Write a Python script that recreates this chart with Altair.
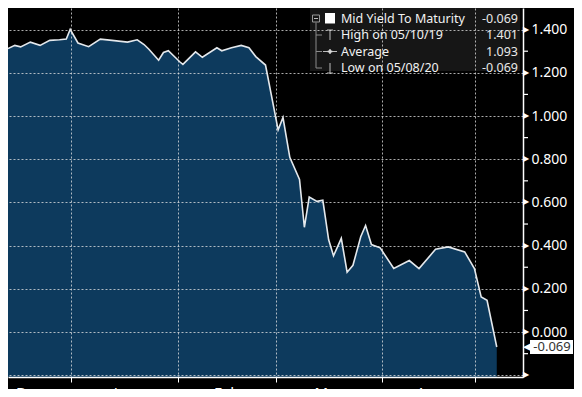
import altair as alt
import pandas as pd

# ---- data (x = trading-session index) ----
days = [0, 1.4, 2.6, 4.6, 6.6, 8.6, 10.6, 12.0, 12.8, 14.4, 16.6, 19.0, 21.4, 24.6,
        26.6, 28.0, 29.0, 31.0, 32.0, 33.0, 35.4, 36.0, 38.6, 40.0, 43.0, 44.0, 46.0,
        48.0, 49.6, 51.0, 53.0, 55.6, 56.6, 58.0, 60.0, 61.0, 62.0, 63.6, 64.8, 66.0,
        67.0, 68.6, 69.8, 71.0, 72.6, 73.6, 74.8, 76.6, 79.4, 82.6, 84.6, 88.0, 90.6,
        94.0, 96.0, 97.4, 98.6, 100.6]
yields = [1.312, 1.327, 1.320, 1.342, 1.327, 1.350, 1.353, 1.356, 1.401, 1.338, 1.321,
          1.356, 1.350, 1.342, 1.353, 1.331, 1.309, 1.258, 1.294, 1.302, 1.250, 1.239,
          1.297, 1.272, 1.316, 1.302, 1.316, 1.327, 1.316, 1.275, 1.236, 0.936, 0.993,
          0.809, 0.706, 0.485, 0.625, 0.605, 0.610, 0.427, 0.353, 0.434, 0.277, 0.309,
          0.441, 0.493, 0.405, 0.390, 0.294, 0.331, 0.294, 0.383, 0.394, 0.371, 0.294,
          0.162, 0.147, -0.069]

grid_y = [-0.2, 0.0, 0.2, 0.4, 0.6, 0.8, 1.0, 1.2, 1.4]
minor_y = [-0.1, 0.1, 0.3, 0.5, 0.7, 0.9, 1.1, 1.3]
month_bounds = [13, 35, 55.2, 77, 96.2]
month_names = ["Dec", "Jan", "Feb", "Mar", "Apr"]
month_centers = [4.4, 24, 45, 66, 86.6]
legend_labels = ["Mid Yield To Maturity", "High on 05/10/19", "Average", "Low on 05/08/20"]
legend_values = ["-0.069", "1.401", "1.093", "-0.069"]
last_value = -0.069

# ---- layout ----
W, H = 515, 369
XDOM = [0, 106]
YDOM = [-0.208, 1.5]
FONT = "Noto Sans"
AREA = "#0d3a5d"
GRID = "#e6e6e6"

xs = alt.Scale(domain=XDOM, nice=False, zero=False)
ys = alt.Scale(domain=YDOM, nice=False, zero=False)

series = pd.DataFrame({"day": days, "value": yields})
one = pd.DataFrame({"k": [0]})

area = alt.Chart(series).mark_area(color=AREA, opacity=1).encode(
    x=alt.X("day:Q", scale=xs, axis=alt.Axis(
        values=month_bounds, grid=True, gridColor=GRID, gridDash=[2, 2], gridWidth=1,
        gridOpacity=0.75, labels=False, ticks=True, tickColor="white", tickSize=5,
        tickWidth=1, domain=True, domainColor="white", domainWidth=1.5, title=None,
        zindex=1)),
    y=alt.Y("value:Q", scale=ys, axis=alt.Axis(
        orient="right", values=grid_y, grid=True, gridColor=GRID, gridDash=[2, 2],
        gridWidth=1, gridOpacity=0.75, ticks=False,
        labelExpr="datum.value < -0.1 ? '' : format(datum.value, '.3f')",
        domain=True, domainColor="white", domainWidth=1.5, labelColor="white",
        labelFont=FONT, labelFontSize=14, labelPadding=8, title=None,
        labelOverlap=False, labelFlush=False, zindex=1)),
    y2=alt.datum(YDOM[0]),
)

line = alt.Chart(series).mark_line(color="#e4e8ec", strokeWidth=1.6).encode(
    x=alt.X("day:Q", scale=xs),
    y=alt.Y("value:Q", scale=ys),
)

axis_layers = []
for v in grid_y:
    axis_layers.append(alt.Chart(one).mark_text(
        text="▶", font="DejaVu Sans", fontSize=8, color="white",
        align="left", baseline="middle").encode(
        y=alt.datum(v), x=alt.value(W)))
for v in minor_y:
    axis_layers.append(alt.Chart(one).mark_rect(color="white", yOffset=-0.6, y2Offset=0.6).encode(
        y=alt.datum(v), y2=alt.datum(v), x=alt.value(W), x2=alt.value(W + 5)))

months = alt.Chart(pd.DataFrame({"m": month_names, "c": month_centers})).mark_text(
    color="white", font=FONT, fontSize=15, baseline="top", align="center"
).encode(x=alt.X("c:Q", scale=xs), y=alt.value(H + 9), text="m:N")

# last value tag
tag_box = alt.Chart(one).mark_rect(color="white", yOffset=-7, y2Offset=7).encode(
    x=alt.value(W + 7), x2=alt.value(W + 50), y=alt.datum(last_value), y2=alt.datum(last_value))
tag_arrow = alt.Chart(one).mark_text(
    text="◀", font="DejaVu Sans", fontSize=11, color="white",
    align="right", baseline="middle").encode(
    x=alt.value(W + 8.5), y=alt.datum(last_value))
tag_text = alt.Chart(one).mark_text(color="#333333", font=FONT, fontSize=13,
                                    align="center", baseline="middle").encode(
    x=alt.value(W + 29), y=alt.datum(last_value), text=alt.value(f"{last_value:.3f}"))

# legend box
LX0, LX1, LY0, LY1 = 302, 512, 0, 63
legend_layers = [
    alt.Chart(one).mark_rect(color="#161616", opacity=1).encode(
        x=alt.value(LX0), x2=alt.value(LX1), y=alt.value(LY0), y2=alt.value(LY1))
]
row_y = [10.5 + i * 16.5 for i in range(len(legend_labels))]
for i, (lab, val) in enumerate(zip(legend_labels, legend_values)):
    legend_layers.append(alt.Chart(one).mark_text(
        color="#f2f2f2", font=FONT, fontSize=12.5, align="left", baseline="middle").encode(
        x=alt.value(333), y=alt.value(row_y[i]), text=alt.value(lab)))
    legend_layers.append(alt.Chart(one).mark_text(
        color="#e8e8e8", font=FONT, fontSize=12.5, align="right", baseline="middle").encode(
        x=alt.value(510), y=alt.value(row_y[i]), text=alt.value(val)))
legend_layers += [
    alt.Chart(one).mark_rule(color="#8a8a8a", strokeWidth=1).encode(
        x=alt.value(308), y=alt.value(row_y[0] + 4), y2=alt.value(row_y[3])),
    alt.Chart(one).mark_rect(fill="#161616", stroke="#9a9a9a", strokeWidth=1).encode(
        x=alt.value(304.5), x2=alt.value(311.5), y=alt.value(row_y[0] - 3.5), y2=alt.value(row_y[0] + 3.5)),
    alt.Chart(one).mark_rule(color="#bbbbbb", strokeWidth=1).encode(
        x=alt.value(306), x2=alt.value(310), y=alt.value(row_y[0])),
    alt.Chart(one).mark_rect(color="white").encode(
        x=alt.value(317), x2=alt.value(327), y=alt.value(row_y[0] - 5.5), y2=alt.value(row_y[0] + 5)),
]
for i in (1, 2, 3):
    legend_layers.append(alt.Chart(one).mark_rule(color="#8a8a8a", strokeWidth=1).encode(
        x=alt.value(308), x2=alt.value(314), y=alt.value(row_y[i])))
legend_layers += [
    alt.Chart(one).mark_rule(color="#bdbdbd", strokeWidth=1).encode(
        x=alt.value(322), y=alt.value(row_y[1] - 5), y2=alt.value(row_y[1] + 5)),
    alt.Chart(one).mark_rule(color="#bdbdbd", strokeWidth=1).encode(
        x=alt.value(319), x2=alt.value(325), y=alt.value(row_y[1] - 5)),
    alt.Chart(one).mark_rule(color="#bdbdbd", strokeWidth=1).encode(
        x=alt.value(315), x2=alt.value(329), y=alt.value(row_y[2])),
    alt.Chart(one).mark_point(shape="cross", filled=True, size=20, color="#d8d8d8",
                              opacity=1).encode(
        x=alt.value(322), y=alt.value(row_y[2])),
    alt.Chart(one).mark_rule(color="#bdbdbd", strokeWidth=1).encode(
        x=alt.value(322), y=alt.value(row_y[3] - 5), y2=alt.value(row_y[3] + 5)),
    alt.Chart(one).mark_rule(color="#bdbdbd", strokeWidth=1).encode(
        x=alt.value(319), x2=alt.value(325), y=alt.value(row_y[3] + 5)),
]

chart = alt.layer(
    area, line, *axis_layers, months,
    *legend_layers, tag_box, tag_arrow, tag_text
).properties(
    width=W, height=H, background="black",
    autosize=alt.AutoSizeParams(type="none"),
    padding={"left": 0, "top": 0, "right": 51, "bottom": 12},
).configure_view(stroke=None)

chart.save("out.html", embed_options={"renderer": "svg", "actions": False})
